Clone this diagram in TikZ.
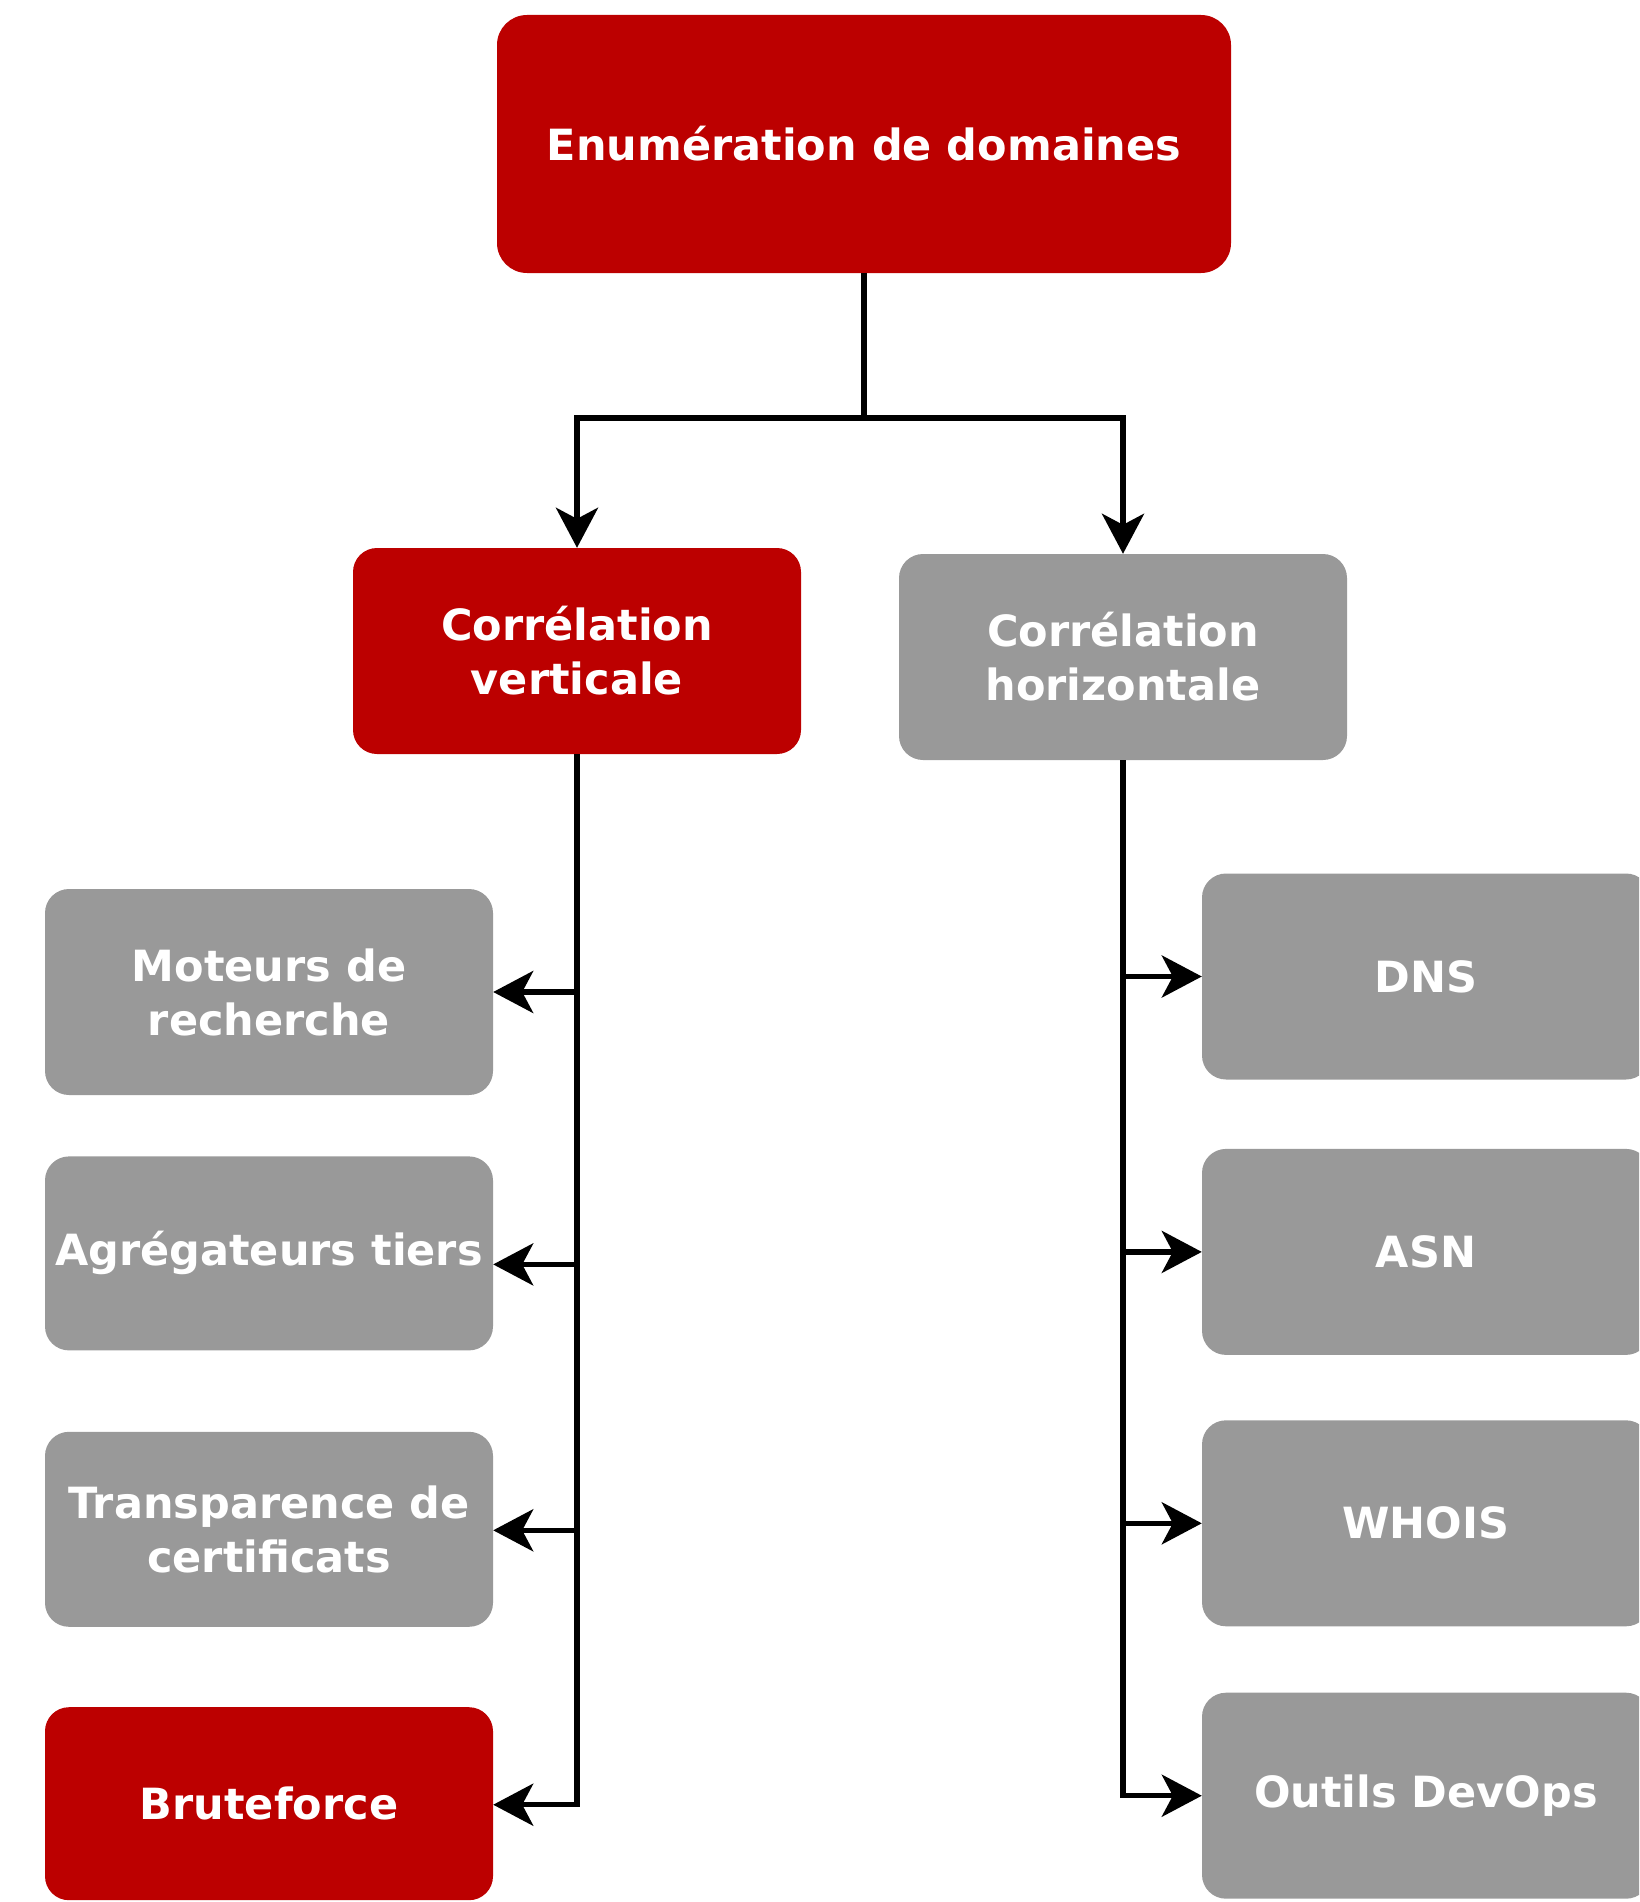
\documentclass[tikz,border=0pt]{standalone}
\usepackage{fontspec}
\setmainfont{DejaVu Sans}
\usetikzlibrary{arrows.meta,positioning}
\definecolor{enumred}{HTML}{BC0000}
\definecolor{enumgray}{HTML}{999999}
\tikzset{x=1pt, y=-1pt, % pixel-like units, y grows downwards
        every node/.style={ % White bold labels in all boxes
            font=\bfseries\fontsize{43}{54}\selectfont,
            text=white,
            align=center},
        box/.style={ % Common box shape
            rounded corners=24pt,
            minimum width=448pt,
            minimum height=206pt,
            inner sep=0pt},
        redbox/.style={box, fill=enumred},
        graybox/.style={box, fill=enumgray},
        flow/.style={ % Connectors with thick arrow heads
            draw=black,
            line width=5.5pt,
            -{Stealth[length=40pt,width=42pt,inset=11pt]}}
        }

\begin{document}
\begin{tikzpicture}
    \path[use as bounding box, clip] (0,0) rectangle (1639,1902);

    \node[redbox, minimum width=734pt, minimum height=258pt, rounded corners=30pt]
                            (enum)  at (864,144)    {Enumération de domaines};
    \node[redbox]           (vert)  at (577,651)    {Corrélation\\verticale};
    \node[graybox]          (horiz) at (1123,657)   {Corrélation\\horizontale};

    % left column
    \node[graybox]                          (moteurs) at (269,992)      {Moteurs de\\recherche};
    \node[graybox, minimum height=194pt]    (agreg)   [below=61pt of moteurs] {Agrégateurs tiers};
    \node[graybox, minimum height=195pt]    (transp)  [below=81pt of agreg]   {Transparence de\\certificats};
    \node[redbox, minimum height=193pt]     (brute)   [below=80pt of transp]  {Bruteforce};

    % right column
    \node[graybox]          (dns)    at (1426,976.5)            {DNS};
    \node[graybox]          (asn)    [below=69pt of dns]        {ASN};
    \node[graybox]          (whois)  [below=65pt of asn]        {WHOIS};
    \node[graybox]          (outils) [below=66pt of whois]      {Outils DevOps};

    \draw[flow] (enum.south) -- ++(0,145) -| (vert.north);
    \draw[flow] (enum.south) -- ++(0,145) -| (horiz.north);

    \foreach \n/\s in {moteurs/0pt, agreg/-11pt, transp/-1pt, brute/-1pt}
        \draw[flow] (vert.south) |- ([yshift=\s]\n.east);
    \foreach \n in {dns, asn, whois, outils}
        \draw[flow] (horiz.south) |- (\n.west);
\end{tikzpicture}
\end{document}
